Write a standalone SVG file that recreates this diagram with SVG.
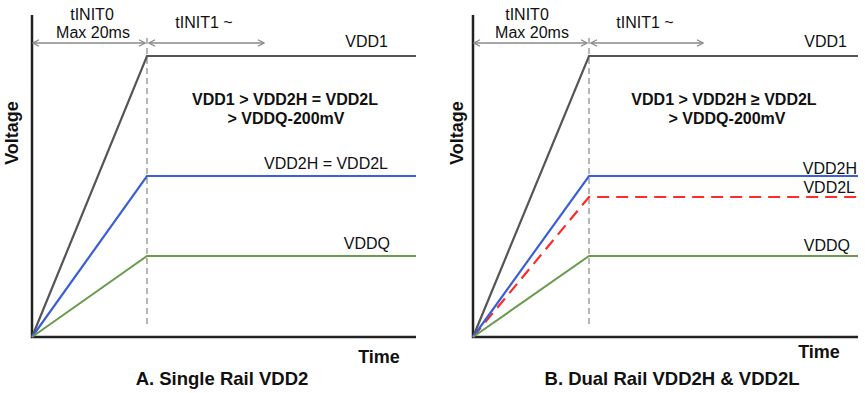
<svg xmlns="http://www.w3.org/2000/svg" width="865" height="393" viewBox="0 0 865 393">
<style>
text{font-family:"Liberation Sans",Arial,sans-serif;fill:#111}
.lbl{font-size:16px}
.bold{font-weight:bold}
.cond{font-size:16px;font-weight:bold;text-anchor:middle}
.cap{font-size:18.5px;font-weight:bold;text-anchor:middle}
.ax{stroke:#222;stroke-width:2.5;fill:none}
.vdd1{stroke:#555;stroke-width:2.2;fill:none}
.vdd2{stroke:#3a5fd6;stroke-width:2.2;fill:none}
.vdd2l{stroke:#ff2a2a;stroke-width:2.2;fill:none;stroke-dasharray:12 7}
.vddq{stroke:#6b9a4c;stroke-width:2;fill:none}
.dash{stroke:#888;stroke-width:1.2;stroke-dasharray:6 4;fill:none}
.arr{stroke:#8a8a8a;stroke-width:1.3;fill:none;marker-start:url(#ah);marker-end:url(#ah)}
</style>
<defs>
<marker id="ah" viewBox="0 0 8 8" refX="7" refY="4" markerWidth="8" markerHeight="8" markerUnits="userSpaceOnUse" orient="auto-start-reverse">
<path d="M1,0.8 L7,4 L1,7.2" fill="none" stroke="#8a8a8a" stroke-width="1.3"/>
</marker>
</defs>
<rect width="865" height="393" fill="#fff"/>

<!-- Panel A -->
<g id="panelA">
  <g id="A-axes">
    <path class="ax" d="M32,15 V337 H416"/>
    <text class="bold" font-size="18" transform="translate(18,133) rotate(-90)" text-anchor="middle">Voltage</text>
    <text class="bold" font-size="18" x="379" y="363" text-anchor="middle">Time</text>
  </g>
  <g id="A-timing">
    <line class="dash" x1="147" y1="38" x2="147" y2="327"/>
    <line class="arr" x1="33" y1="43" x2="145" y2="43"/>
    <line class="arr" x1="149" y1="43" x2="264" y2="43"/>
    <text class="lbl" x="92" y="20" text-anchor="middle">tINIT0</text>
    <text class="lbl" x="93" y="38" text-anchor="middle">Max 20ms</text>
    <text class="lbl" x="204" y="28" text-anchor="middle">tINIT1 ~</text>
  </g>
  <g id="A-VDD1">
    <path class="vdd1" d="M32,337 L147,56 H416"/>
    <text class="lbl" x="388" y="47" text-anchor="end">VDD1</text>
  </g>
  <g id="A-VDD2">
    <path class="vdd2" d="M32,337 L147,176 H416"/>
    <text class="lbl" x="388" y="169" text-anchor="end" font-size="14.5">VDD2H = VDD2L</text>
  </g>
  <g id="A-VDDQ">
    <path class="vddq" d="M32,337 L147,256 H416"/>
    <text class="lbl" x="390" y="249" text-anchor="end">VDDQ</text>
  </g>
  <g id="A-condition">
    <text class="cond" x="285" y="105">VDD1 &gt; VDD2H = VDD2L</text>
    <text class="cond" x="286" y="124">&gt; VDDQ-200mV</text>
  </g>
  <text class="cap" x="222" y="385">A. Single Rail VDD2</text>
</g>

<!-- Panel B -->
<g id="panelB">
  <g id="B-axes">
    <path class="ax" d="M473,15 V337 H858"/>
    <text class="bold" font-size="18" transform="translate(463,133) rotate(-90)" text-anchor="middle">Voltage</text>
    <text class="bold" font-size="18" x="819" y="358" text-anchor="middle">Time</text>
  </g>
  <g id="B-timing">
    <line class="dash" x1="589" y1="38" x2="589" y2="327"/>
    <line class="arr" x1="474" y1="43" x2="587" y2="43"/>
    <line class="arr" x1="591" y1="43" x2="703" y2="43"/>
    <text class="lbl" x="527" y="20" text-anchor="middle">tINIT0</text>
    <text class="lbl" x="532" y="38" text-anchor="middle">Max 20ms</text>
    <text class="lbl" x="645" y="28" text-anchor="middle">tINIT1 ~</text>
  </g>
  <g id="B-VDD1">
    <path class="vdd1" d="M473,337 L589,56 H858"/>
    <text class="lbl" x="847" y="47" text-anchor="end">VDD1</text>
  </g>
  <g id="B-VDD2L">
    <path class="vdd2l" d="M473,337 L589,197 H858"/>
    <text class="lbl" x="855" y="193" text-anchor="end">VDD2L</text>
  </g>
  <g id="B-VDD2H">
    <path class="vdd2" d="M473,337 L589,176 H858"/>
    <text class="lbl" x="857" y="174" text-anchor="end">VDD2H</text>
  </g>
  <g id="B-VDDQ">
    <path class="vddq" d="M473,337 L589,256 H858"/>
    <text class="lbl" x="850" y="251" text-anchor="end">VDDQ</text>
  </g>
  <g id="B-condition">
    <text class="cond" x="724" y="105">VDD1 &gt; VDD2H ≥ VDD2L</text>
    <text class="cond" x="727" y="124">&gt; VDDQ-200mV</text>
  </g>
  <text class="cap" x="672" y="385">B. Dual Rail VDD2H &amp; VDD2L</text>
</g>
</svg>
